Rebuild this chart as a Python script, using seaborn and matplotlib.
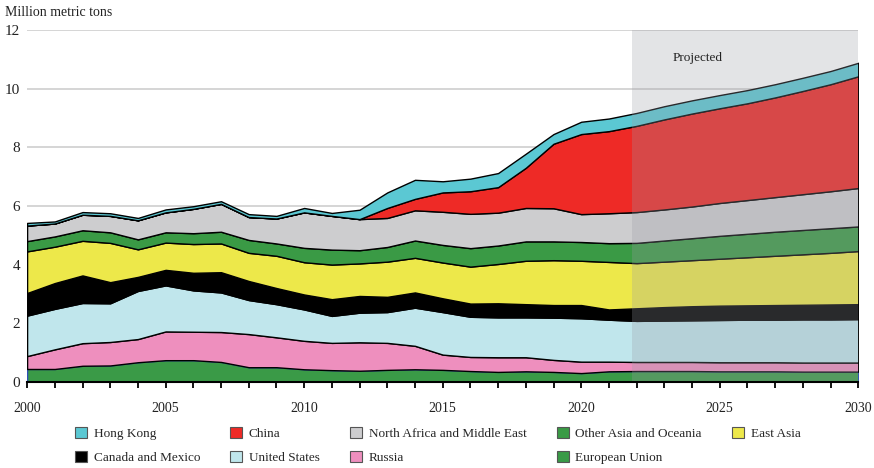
import seaborn as sns
import matplotlib.pyplot as plt
from matplotlib.patches import Patch

# Years and regional values (million metric tons)
years = list(range(2000, 2031))

european_union = [0.44, 0.44, 0.55, 0.56, 0.67, 0.74, 0.74, 0.68, 0.50, 0.50, 0.43, 0.40, 0.38, 0.41, 0.43, 0.41,
                  0.37, 0.34, 0.36, 0.34, 0.30, 0.36, 0.37, 0.37, 0.37, 0.36, 0.36, 0.36, 0.35, 0.35, 0.35]
russia = [0.44, 0.67, 0.77, 0.80, 0.79, 0.98, 0.97, 1.02, 1.13, 1.02, 0.97, 0.93, 0.97, 0.92, 0.80, 0.52,
          0.48, 0.50, 0.48, 0.41, 0.39, 0.33, 0.31, 0.31, 0.31, 0.31, 0.31, 0.31, 0.31, 0.31, 0.31]
united_states = [1.38, 1.38, 1.37, 1.32, 1.64, 1.57, 1.41, 1.35, 1.16, 1.13, 1.07, 0.92, 1.01, 1.05, 1.30, 1.45,
                 1.37, 1.36, 1.36, 1.44, 1.48, 1.43, 1.40, 1.41, 1.42, 1.44, 1.45, 1.45, 1.47, 1.47, 1.48]
canada_mexico = [0.77, 0.88, 0.94, 0.72, 0.48, 0.53, 0.60, 0.69, 0.65, 0.55, 0.51, 0.57, 0.57, 0.52, 0.52, 0.47,
                 0.45, 0.48, 0.45, 0.43, 0.45, 0.35, 0.43, 0.46, 0.48, 0.49, 0.49, 0.50, 0.50, 0.51, 0.51]
east_asia = [1.42, 1.24, 1.18, 1.34, 0.94, 0.93, 0.98, 0.98, 0.96, 1.10, 1.10, 1.18, 1.11, 1.20, 1.18, 1.22,
             1.26, 1.34, 1.48, 1.53, 1.51, 1.62, 1.54, 1.55, 1.57, 1.60, 1.64, 1.68, 1.72, 1.76, 1.81]
other_asia = [0.35, 0.35, 0.36, 0.36, 0.34, 0.35, 0.37, 0.40, 0.44, 0.42, 0.49, 0.51, 0.45, 0.50, 0.59, 0.60,
              0.63, 0.63, 0.66, 0.64, 0.64, 0.64, 0.69, 0.72, 0.75, 0.78, 0.80, 0.82, 0.83, 0.84, 0.84]
n_africa_me = [0.53, 0.44, 0.53, 0.56, 0.65, 0.68, 0.83, 0.95, 0.78, 0.85, 1.21, 1.15, 1.06, 0.99, 1.03, 1.13,
               1.17, 1.12, 1.14, 1.13, 0.95, 1.02, 1.05, 1.06, 1.08, 1.12, 1.15, 1.18, 1.22, 1.26, 1.31]
china = [0, 0, 0, 0, 0, 0, 0, 0, 0, 0, 0, 0, 0, 0.34, 0.39, 0.66,
         0.77, 0.87, 1.37, 2.20, 2.73, 2.80, 2.94, 3.07, 3.17, 3.23, 3.30, 3.40, 3.52, 3.65, 3.81]
hong_kong = [0.09, 0.07, 0.09, 0.09, 0.08, 0.10, 0.09, 0.09, 0.10, 0.09, 0.15, 0.10, 0.32, 0.53, 0.65, 0.38,
             0.43, 0.48, 0.48, 0.33, 0.42, 0.43, 0.44, 0.45, 0.45, 0.45, 0.45, 0.45, 0.45, 0.45, 0.46]

series = [european_union, russia, united_states, canada_mexico, east_asia,
          other_asia, n_africa_me, china, hong_kong]
colors = ['#3a9a47', '#ee8fbe', '#c0e6ec', '#000000', '#ede84a',
          '#3a9a45', '#cdcdcf', '#ee2a26', '#5bc8d3']

sns.set_theme(style="white")
plt.rcParams['font.family'] = ['Liberation Serif', 'DejaVu Serif']

fig = plt.figure(figsize=(8.74, 4.68), dpi=100)
ax = fig.add_axes([0.031, 0.184, 0.951, 0.752])

polys = ax.stackplot(years, *series, colors=colors, edgecolor='black', linewidth=1.0, zorder=2)
polys[0].set_edgecolor('#2f4fb5')

# projected period shading
ax.axvspan(2021.85, 2030, color='#9b9ca5', alpha=0.27, lw=0, zorder=2.3)
ax.text(2024.2, 11.05, 'Projected', ha='center', va='center', fontsize=9.5, color='#222222')

ax.set_xlim(2000, 2030)
ax.set_ylim(0, 12)
ax.set_yticks(range(0, 13, 2))
ax.set_xticks(years)
ax.set_xticklabels([str(y) if y % 5 == 0 else '' for y in years])
ax.yaxis.grid(True, color='#d2d2d2', lw=1.3)
ax.set_axisbelow(True)
ax.tick_params(axis='y', length=0, pad=5, labelsize=11, labelcolor='#222222')
ax.tick_params(axis='x', bottom=True, direction='out', length=4.5, width=1.3, color='black',
               pad=10, labelsize=10, labelcolor='#222222')
sns.despine(ax=ax, left=True)
ax.spines['bottom'].set_color('black')
ax.spines['bottom'].set_linewidth(1.5)
ax.spines['bottom'].set_zorder(3)

fig.text(0.006, 0.974, 'Million metric tons', fontsize=10, va='center', ha='left', color='#222222')

# legend: column-major order, one empty slot
names = ['Hong Kong', 'Canada and Mexico', 'China', 'United States', 'North Africa and Middle East',
         'Russia', 'Other Asia and Oceania', 'European Union', 'East Asia', '']
legend_colors = ['#5bc8d3', '#000000', '#ee2a26', '#c0e6ec', '#cdcdcf',
                 '#ee8fbe', '#3a9a45', '#3a9a47', '#ede84a', 'none']
handles = []
for n, c in zip(names, legend_colors):
    if c == 'none':
        handles.append(Patch(facecolor='none', edgecolor='none', label=n))
    else:
        handles.append(Patch(facecolor=c, edgecolor='#555555', linewidth=0.8, label=n))
fig.legend(handles=handles, loc='upper left', bbox_to_anchor=(0.086, 0.087), ncol=5, frameon=False,
           fontsize=9.5, handlelength=0.9, handleheight=0.9, handletextpad=0.5,
           columnspacing=2.3, labelspacing=0.8, borderaxespad=0, borderpad=0)

fig.savefig('out.png', dpi=100)
